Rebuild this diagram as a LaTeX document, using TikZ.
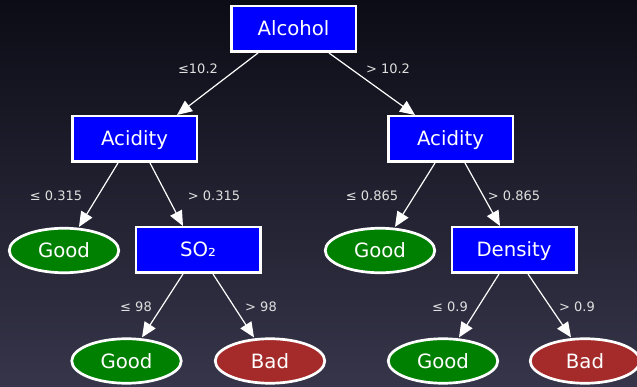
\documentclass[tikz,border=0pt]{standalone}
\usepackage{fontspec}
\setmainfont{DejaVu Sans}
\usetikzlibrary{arrows.meta,shapes.geometric}
\definecolor{bgtop}{HTML}{0C0C16}
\definecolor{bgbot}{HTML}{36354A}
\definecolor{boxblue}{HTML}{0000FF}
\definecolor{goodgreen}{HTML}{008000}
\definecolor{badred}{HTML}{A52A2A}
\definecolor{lbl}{HTML}{E0E0E0}
\begin{document}
\begin{tikzpicture}[x=1pt,y=-1pt,
  test/.style={rectangle, draw=white, line width=2.5pt, fill=boxblue,
    minimum width=124.5pt, minimum height=45.5pt, inner sep=0pt,
    text height=14pt, text depth=0pt,
    text=white, font=\fontsize{19.7}{22}\selectfont},
  leaf/.style={ellipse, draw=white, line width=2.7pt,
    minimum width=109.5pt, minimum height=44.5pt, inner sep=0pt,
    text height=14pt, text depth=0pt,
    text=white, font=\fontsize{19.7}{22}\selectfont},
  good/.style={leaf, fill=goodgreen},
  bad/.style={leaf, fill=badred},
  edge/.style={draw=white, line width=1.2pt, -{Triangle[length=15pt,width=13pt]}},
  cond/.style={text=lbl, font=\fontsize{13}{15}\selectfont, inner sep=0pt, anchor=base}]
  \shade[top color=bgtop, bottom color=bgbot] (0,0) rectangle (637,387);
  \useasboundingbox (0,0) rectangle (637,387);

  \node[test] (alc) at (293.5,29) {Alcohol};
  \node[test] (acl) at (134.5,139) {Acidity};
  \node[test] (acr) at (450.5,139) {Acidity};
  \node[good] (g1) at (64,250.5) {Good};
  \node[test] (so2) at (198,250) {SO₂};
  \node[good] (g2) at (380,250.5) {Good};
  \node[test] (den) at (514,250) {Density};
  \node[good] (g3) at (126.5,361) {Good};
  \node[bad] (b1) at (270,361) {Bad};
  \node[good] (g4) at (443,361) {Good};
  \node[bad] (b2) at (585,361) {Bad};

  \draw[edge] ([xshift=-35.5pt]alc.south) -- ([xshift=42.5pt]acl.north);
  \draw[edge] ([xshift=35.5pt]alc.south) -- ([xshift=-35.5pt]acr.north);
  \draw[edge] ([xshift=-16.5pt]acl.south) -- ([xshift=15pt]g1.north);
  \draw[edge] ([xshift=15.5pt]acl.south) -- ([xshift=-15pt]so2.north);
  \draw[edge] ([xshift=-15.5pt]acr.south) -- ([xshift=15pt]g2.north);
  \draw[edge] ([xshift=14.5pt]acr.south) -- ([xshift=-14pt]den.north);
  \draw[edge] ([xshift=-15pt]so2.south) -- ([xshift=15.5pt]g3.north);
  \draw[edge] ([xshift=15pt]so2.south) -- ([xshift=-16pt]b1.north);
  \draw[edge] ([xshift=-15pt]den.south) -- ([xshift=16pt]g4.north);
  \draw[edge] ([xshift=14pt]den.south) -- ([xshift=-14pt]b2.north);

  \node[cond] (l1) at (198,74) {≤10.2};
  \node[cond] (l2) at (388,74) {> 10.2};
  \node[cond] (l3) at (56,200.5) {≤ 0.315};
  \node[cond] (l4) at (214,200.5) {> 0.315};
  \node[cond] (l5) at (372,200.5) {≤ 0.865};
  \node[cond] (l6) at (514,200.5) {> 0.865};
  \node[cond] (l7) at (136,311.5) {≤ 98};
  \node[cond] (l8) at (261,311.5) {> 98};
  \node[cond] (l9) at (450,311.5) {≤ 0.9};
  \node[cond] (l10) at (577,311.5) {> 0.9};
\end{tikzpicture}
\end{document}
